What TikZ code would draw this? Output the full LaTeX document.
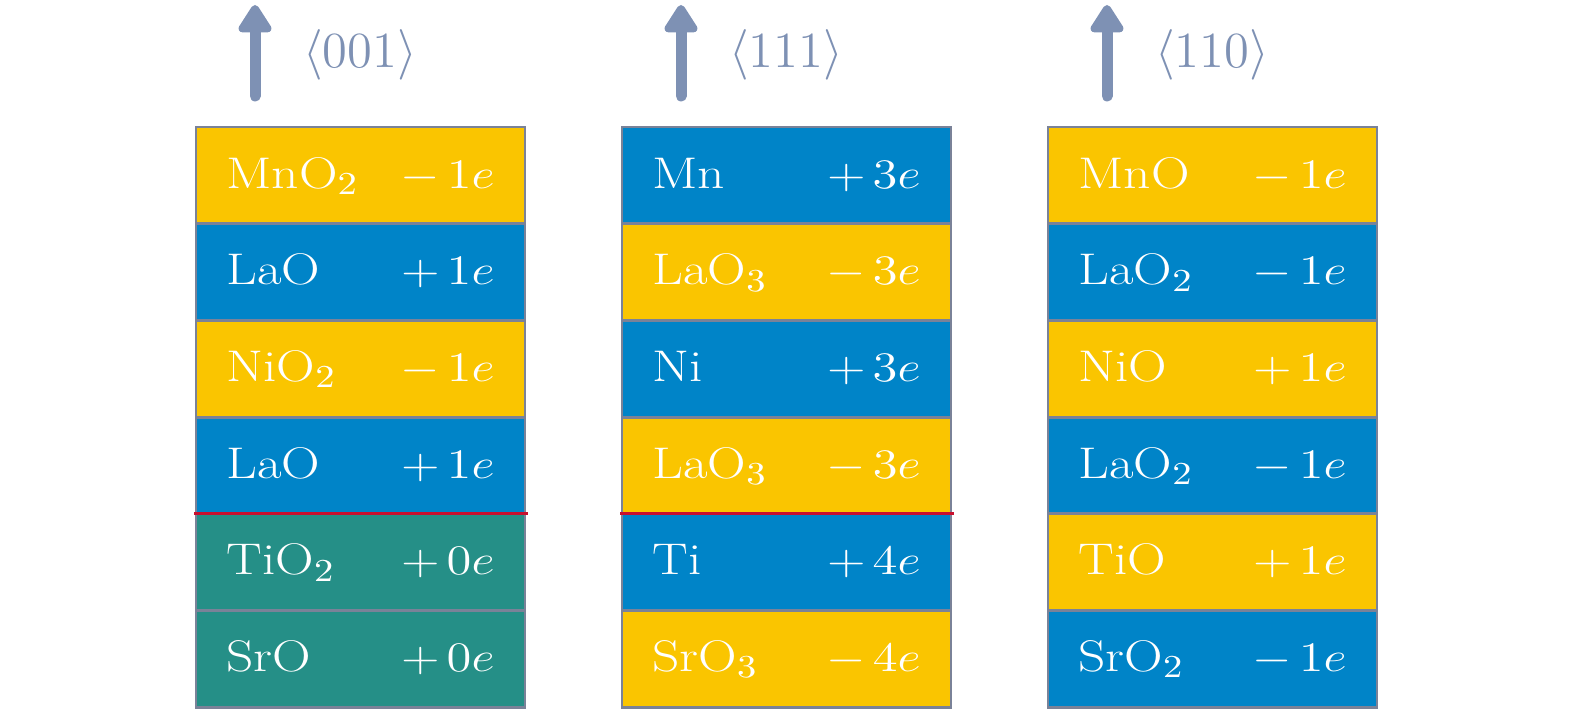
\documentclass[tikz,border=0pt]{standalone}
\usepackage{tikz}
\usepackage{graphicx}
\usetikzlibrary{positioning,arrows.meta}
\usepackage{latexsym,amsmath}

\definecolor{layeryellow}{RGB}{250,197,0}
\definecolor{layerblue}{RGB}{0,132,200}
\definecolor{layerteal}{RGB}{37,143,135}
\definecolor{layerborder}{RGB}{122,130,152}
\definecolor{dircolor}{RGB}{126,145,180}
\definecolor{ifacered}{RGB}{200,16,46}

% layer name left, charge (sign, number) right, a bit flattened
\newcommand{\layertxt}[3]{\scalebox{1}[0.83]{\makebox[2.68cm][s]{#1\hfill$#2\mkern2.5mu#3e$}}}

\begin{document}
\begin{tikzpicture}[node distance=0pt, semithick]  %, >=stealth'
  \tikzstyle{layer}=[draw=layerborder, line width=0.8pt, text=white, minimum width=3.29cm, minimum height=0.967cm,
                     inner sep=0pt, outer sep=0pt, text height=0.306cm, text depth=0.05cm,
                     font=\fontsize{15.2}{18}\selectfont]
  \tikzstyle{ylayer}=[layer, fill=layeryellow]
  \tikzstyle{blayer}=[layer, fill=layerblue]
  \tikzstyle{tlayer}=[layer, fill=layerteal]
  \tikzstyle{dirarrow}=[draw=dircolor, line width=0.11cm, line cap=round, -{Triangle[round, width=0.37cm, length=0.31cm]}]
  \tikzstyle{dirlabel}=[text=dircolor, inner sep=0pt, font=\fontsize{15}{18}\selectfont]
  \tikzstyle{iface}=[draw=ifacered, line width=0.75pt, shorten <=-0.02cm, shorten >=-0.03cm]
  \useasboundingbox (0,0) rectangle (15.75,7.24);

  % <001>
  \node[ylayer]  (A1) at (3.605,5.4865) {\layertxt{MnO$_2$}{-}{1}};
  \node[blayer]  (A2) [below=of A1]     {\layertxt{LaO}{+}{1}};
  \node[ylayer]  (A3) [below=of A2]     {\layertxt{NiO$_2$}{-}{1}};
  \node[blayer]  (A4) [below=of A3]     {\layertxt{LaO}{+}{1}};
  \node[tlayer]  (A5) [below=of A4]     {\layertxt{TiO$_2$}{+}{0}};
  \node[tlayer]  (A6) [below=of A5]     {\layertxt{SrO}{+}{0}};

  % <111>
  \node[blayer]  (B1) [right=0.97cm of A1] {\layertxt{Mn}{+}{3}};
  \node[ylayer]  (B2) [below=of B1]     {\layertxt{LaO$_3$}{-}{3}};
  \node[blayer]  (B3) [below=of B2]     {\layertxt{Ni}{+}{3}};
  \node[ylayer]  (B4) [below=of B3]     {\layertxt{LaO$_3$}{-}{3}};
  \node[blayer]  (B5) [below=of B4]     {\layertxt{Ti}{+}{4}};
  \node[ylayer]  (B6) [below=of B5]     {\layertxt{SrO$_3$}{-}{4}};

  % <110>
  \node[ylayer]  (C1) [right=0.97cm of B1] {\layertxt{MnO}{-}{1}};
  \node[blayer]  (C2) [below=of C1]     {\layertxt{LaO$_2$}{-}{1}};
  \node[ylayer]  (C3) [below=of C2]     {\layertxt{NiO}{+}{1}};
  \node[blayer]  (C4) [below=of C3]     {\layertxt{LaO$_2$}{-}{1}};
  \node[ylayer]  (C5) [below=of C4]     {\layertxt{TiO}{+}{1}};
  \node[blayer]  (C6) [below=of C5]     {\layertxt{SrO$_2$}{-}{1}};

  % interfaces
  \draw[iface] (A4.south west) -- (A4.south east);
  \draw[iface] (B4.south west) -- (B4.south east);

  % growth directions
  \foreach \c/\d in {A/001, B/111, C/110}{
    \coordinate[above right=0.31cm and 0.59cm of \c1.north west] (\c s);
    \coordinate[above=0.91cm of \c s] (\c e);
    \draw[dirarrow] (\c s) -- (\c e);
    \node[dirlabel, above right=0.15cm and 0.47cm of \c s] (\c l) {$\langle \d \rangle$};
  }

\end{tikzpicture}
\end{document}
